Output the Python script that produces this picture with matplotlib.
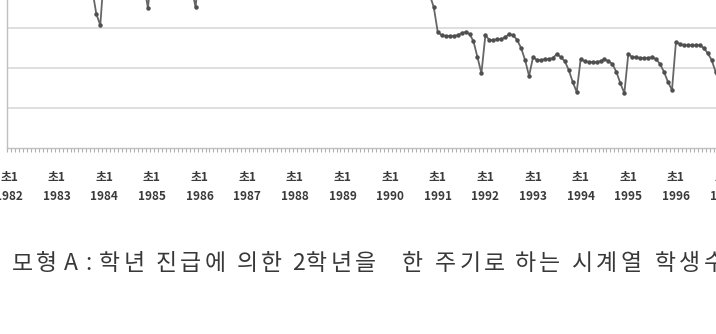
import numpy as np
import matplotlib.pyplot as plt

plt.rcParams['font.family'] = ['Noto Sans CJK KR', 'DejaVu Sans']

# monthly student counts (thousands), 12 values per school year
years = list(range(1982, 1998))
students = [
    # 1982
    452, 448, 447, 447, 448, 449, 455, 452, 446, 432, 415, 398,
    # 1983
    448, 444, 443, 443, 444, 446, 452, 448, 440, 395, 335, 307,
    # 1984
    446, 442, 441, 441, 442, 444, 450, 446, 438, 425, 407, 350,
    # 1985
    447, 443, 442, 442, 443, 445, 451, 447, 439, 424, 400, 352,
    # 1986
    450, 446, 445, 445, 446, 448, 454, 450, 442, 430, 410, 390,
    # 1987
    452, 448, 447, 447, 448, 450, 456, 452, 444, 432, 413, 395,
    # 1988
    449, 445, 444, 444, 445, 447, 453, 449, 441, 428, 410, 393,
    # 1989
    446, 442, 441, 441, 442, 444, 450, 446, 438, 426, 408, 391,
    # 1990
    442, 438, 437, 437, 438, 440, 446, 442, 434, 420, 382, 352,
    # 1991
    290, 282, 280, 280, 280, 282, 287, 290, 285, 267, 227, 187,
    # 1992
    282, 270, 270, 272, 272, 277, 285, 282, 270, 250, 220, 180,
    # 1993
    227, 220, 220, 222, 222, 225, 235, 227, 217, 195, 165, 140,
    # 1994
    222, 217, 215, 215, 215, 217, 222, 217, 210, 190, 162, 137,
    # 1995
    235, 227, 227, 225, 225, 225, 227, 222, 210, 190, 165, 145,
    # 1996
    265, 260, 257, 257, 257, 257, 257, 250, 237, 220, 190, 157,
    # 1997
    258, 252, 250, 250, 250, 251, 252, 246, 235, 218, 190, 160,
]
year_labels = ['초1\n%d' % y for y in years]
caption_words = ['모형', 'A:', '학년', '진급에', '의한', '2학년을', '한',
                 '주기로', '하는', '시계열', '학생수']
caption_x = [12, 64, 99, 156, 237, 292, 402, 435, 515, 572, 655]

W, H = 716, 334
fig = plt.figure(figsize=(W / 100, H / 100), dpi=100)

n = len(students)
dx = 3.97  # pixels per month
left, bottom = 7, 148
ax_w = n * dx
ymax = 500
ax_h = ymax * 0.4
ax = fig.add_axes([left / W, 1 - bottom / H, ax_w / W, ax_h / H])

x = np.arange(n)
ax.plot(x, students, color='#666666', lw=1.3, marker='o', ms=2.2,
        mfc='#4f4f4f', mec='#4f4f4f')

ax.set_xlim(-0.5, n - 0.5)
ax.set_ylim(0, ymax)
ax.set_yticks([100, 200, 300, 400])
ax.set_yticklabels([])
ax.tick_params(axis='y', length=0)
ax.grid(axis='y', color='#d9d9d9', lw=1.2)
ax.set_axisbelow(True)

ax.set_xticks(np.arange(0, n, 12))
ax.set_xticklabels(year_labels, fontsize=8.5, fontweight='bold',
                   color='#3a3a3a', linespacing=1.6)
ax.set_xticks(np.arange(-0.5, n, 1), minor=True)
ax.tick_params(axis='x', which='major', length=0, pad=16.5)
ax.tick_params(axis='x', which='minor', length=3, color='#b0b0b0', width=0.8)

for s in ['top', 'right']:
    ax.spines[s].set_visible(False)
ax.spines['left'].set_color('#bfbfbf')
ax.spines['bottom'].set_color('#bfbfbf')
ax.spines['left'].set_linewidth(1.0)
ax.spines['bottom'].set_linewidth(1.0)

# caption under the chart, wide letter spacing like the source document
def advance(ch):
    if ch.isdigit():
        return 14
    if ch == 'A':
        return 21
    if ch == ':':
        return 9
    return 24.3

for word, wx in zip(caption_words, caption_x):
    cx = wx
    for ch in word:
        fig.text(cx / W, 1 - 264 / H, ch, fontsize=16.5, color='#383838',
                 va='center', ha='left')
        cx += advance(ch)

fig.savefig('out.png', dpi=100)
